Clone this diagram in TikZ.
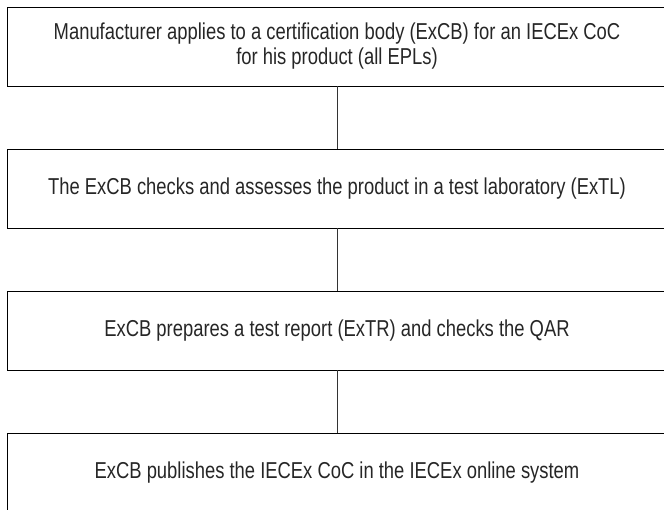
\documentclass[tikz,border=0pt]{standalone}
\usepackage{fontspec}
\setmainfont[FakeStretch=0.8]{Liberation Sans}
\begin{document}
\begin{tikzpicture}[x=1pt,y=-1pt,
  box/.style={draw=black, line width=0.9pt, rectangle, minimum width=660pt, minimum height=79pt,
    inner sep=0pt, align=center, text=black!85, font=\fontsize{23}{25}\selectfont},
  link/.style={draw=black!80, line width=0.6pt}]
\useasboundingbox (0,0) rectangle (664,510);
\clip (0,0) rectangle (664,510);
\node[box] (b1) at (337,46.5) {Manufacturer applies to a certification body (ExCB) for an IECEx CoC\\for his product (all EPLs)};
\node[box] (b2) at (337,188.5) {The ExCB checks and assesses the product in a test laboratory (ExTL)};
\node[box] (b3) at (337,330.5) {ExCB prepares a test report (ExTR) and checks the QAR};
\node[box] (b4) at (337,472.5) {ExCB publishes the IECEx CoC in the IECEx online system};
\draw[link] (b1.south) -- (b2.north);
\draw[link] (b2.south) -- (b3.north);
\draw[link] (b3.south) -- (b4.north);
\end{tikzpicture}
\end{document}
